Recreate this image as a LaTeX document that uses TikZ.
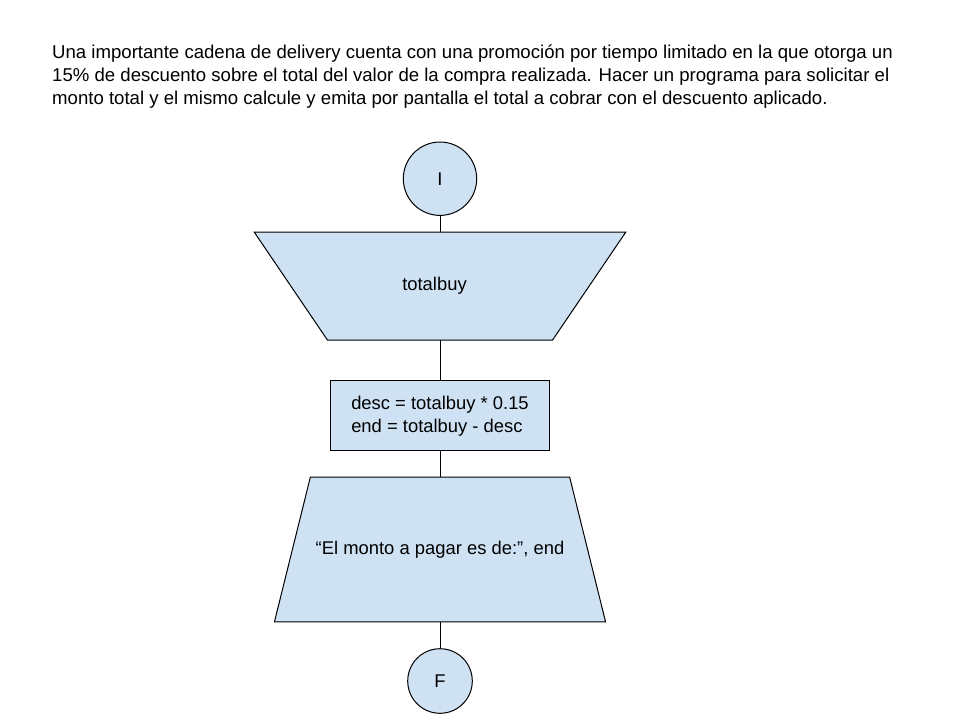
\documentclass[tikz,border=0pt]{standalone}
\usepackage{fontspec}
\setmainfont{Liberation Sans}
\usetikzlibrary{positioning}

\definecolor{boxblue}{HTML}{CFE2F3}

\tikzset{
	flow/.style={draw=black, fill=boxblue, line width=1pt, font=\fontsize{18.4}{22.7}\selectfont, inner sep=0pt},
	terminal/.style={flow, shape=circle},
	procbox/.style={flow, shape=rectangle},
	slot/.style={shape=rectangle, inner sep=0pt, font=\fontsize{18.4}{22.7}\selectfont},
	edge/.style={draw=black, fill=boxblue, line width=1pt, line join=miter},
	line/.style={anchor=base west, inner sep=0pt, font=\fontsize{18.6}{23}\selectfont},
	link/.style={line width=1pt}
}

\begin{document}
\begin{tikzpicture}[x=1pt, y=-1pt]
	\useasboundingbox (0,0) rectangle (960,720);
	
	% statement
	\node[line] (task1) at (52,58.5) {Una importante cadena de delivery cuenta con una promoción por tiempo limitado en la que otorga un};
	\node[line] (task2) at (52,81.5) {15\% de descuento sobre el total del valor de la compra realizada. Hacer un programa para solicitar el};
	\node[line] (task3) at (52,104.5) {monto total y el mismo calcule y emita por pantalla el total a cobrar con el descuento aplicado.};
	
	\node[terminal, minimum size=73.4pt] (start) at (440,178.7) {I};
	
	% input trapezoid (wide side on top)
	\node[slot, minimum width=371pt, minimum height=107.5pt, below=16.3pt of start] (read) {};
	\filldraw[edge] (read.north west) -- (read.north east) -- ([xshift=-73.2pt]read.south east) -- ([xshift=73.2pt]read.south west) -- cycle;
	\node[slot] (readtxt) at ([xshift=-5.5pt]read.center) {totalbuy};
	
	\node[procbox, minimum width=219pt, minimum height=70pt, below=40.3pt of read, align=left] (calc) {desc = totalbuy * 0.15\\end = totalbuy - desc};
	
	% output trapezoid (wide side at the bottom)
	\node[slot, minimum width=330.7pt, minimum height=144.3pt, below=25.7pt of calc] (show) {};
	\filldraw[edge] ([xshift=35.9pt]show.north west) -- ([xshift=-35.9pt]show.north east) -- (show.south east) -- (show.south west) -- cycle;
	\node[slot] (showtxt) at (show.center) {“El monto a pagar es de:”, end};
	
	\node[terminal, minimum size=64.6pt, below=26.4pt of show] (stop) {F};
	
	\draw[link] (start) -- (read);
	\draw[link] (read) -- (calc);
	\draw[link] (calc) -- (show);
	\draw[link] (show) -- (stop);
\end{tikzpicture}
\end{document}
